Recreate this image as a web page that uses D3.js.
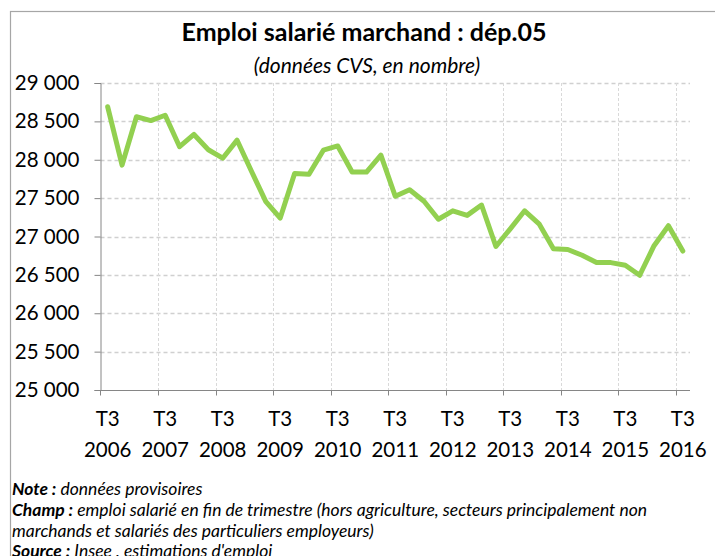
<!doctype html>
<html>
<head>
<meta charset="utf-8">
<style>
  body { margin: 0; background: #fff; }
  svg { display: block; }
  text { font-family: Lato, "Open Sans", sans-serif; fill: #000; }
</style>
</head>
<body>
<svg id="chart" width="715" height="556"></svg>
<script src="https://cdnjs.cloudflare.com/ajax/libs/d3/7.8.5/d3.min.js"></script>
<script>
// quarterly values, T3 2006 -> T3 2016
var years = ["2006","2007","2008","2009","2010","2011","2012","2013","2014","2015","2016"];
var values = [
  28690, 27930, 28560, 28510, 28580, 28170, 28330, 28130,
  28020, 28255, 27850, 27455, 27240, 27820, 27810, 28125,
  28180, 27840, 27840, 28060, 27525, 27610, 27460, 27225,
  27335, 27275, 27410, 26870, 27100, 27335, 27165, 26840,
  26830, 26755, 26660, 26660, 26625, 26495, 26880, 27140,
  26810
];
var yTicks = [25000, 25500, 26000, 26500, 27000, 27500, 28000, 28500, 29000];
var quarters = ["T3", "T4", "T1", "T2"];

var cats = values.map(function(d, i) {
  return quarters[i % 4] + " " + (2006 + Math.floor((i + 2) / 4));
});

var svg = d3.select("#chart");
var pLeft = 100.5, pRight = 690, pTop = 83, pBottom = 390;

var x = d3.scalePoint().domain(cats).range([pLeft, pRight]).padding(0.5);
var y = d3.scaleLinear().domain([25000, 29000]).range([pBottom, pTop]);
var step = x.step();

var fr = d3.formatLocale({ decimal: ",", thousands: " ", grouping: [3], currency: ["", " €"] });
var fmt = fr.format(",d");

// outer frame (right and bottom edges run past the picture)
svg.append("rect")
  .attr("x", 10.5).attr("y", 11.5).attr("width", 800).attr("height", 600)
  .attr("fill", "none").attr("stroke", "#a6a6a6").attr("stroke-width", 1.2);

// titles
svg.append("text").attr("x", 364).attr("y", 41).attr("text-anchor", "middle")
  .style("font-size", "25px").style("font-weight", "bold")
  .text("Emploi salarié marchand : dép.05");
svg.append("text").attr("x", 367).attr("y", 73).attr("text-anchor", "middle")
  .style("font-size", "21px").style("font-style", "italic")
  .text("(données CVS, en nombre)");

// horizontal grid
svg.append("g").selectAll("line").data(yTicks.slice(1)).join("line")
  .attr("x1", pLeft).attr("x2", pRight)
  .attr("y1", function(d) { return Math.round(y(d)) + 0.5; })
  .attr("y2", function(d) { return Math.round(y(d)) + 0.5; })
  .attr("stroke", "#d0d0d0").attr("stroke-width", 1.5).attr("stroke-dasharray", "4,3");

// vertical grid at year boundaries
var vIdx = d3.range(4, cats.length, 4);
svg.append("g").selectAll("line").data(vIdx).join("line")
  .attr("x1", function(i) { return Math.round(x(cats[i]) - step / 2) + 0.5; })
  .attr("x2", function(i) { return Math.round(x(cats[i]) - step / 2) + 0.5; })
  .attr("y1", pTop).attr("y2", pBottom)
  .attr("stroke", "#d9d9d9").attr("stroke-width", 1).attr("stroke-dasharray", "3,2");

// y axis
var yAxis = svg.append("g").attr("transform", "translate(" + pLeft + ",0)")
  .call(d3.axisLeft(y).tickValues(yTicks).tickSize(6).tickFormat(fmt));
yAxis.select(".domain").attr("stroke", "#868686");
yAxis.selectAll(".tick line").attr("stroke", "#868686");
yAxis.selectAll(".tick text").attr("x", -21).style("font-size", "20.5px")
  .style("font-family", "Lato, sans-serif").attr("fill", "#000");

// x axis
var xg = svg.append("g").attr("transform", "translate(0," + (pBottom + 0.5) + ")");
xg.append("line").attr("x1", pLeft).attr("x2", pRight).attr("stroke", "#868686");
xg.selectAll("line.tk").data(vIdx.concat([0])).join("line").attr("class", "tk")
  .attr("x1", function(i) { return i === 0 ? pLeft : Math.round(x(cats[i]) - step / 2) + 0.5; })
  .attr("x2", function(i) { return i === 0 ? pLeft : Math.round(x(cats[i]) - step / 2) + 0.5; })
  .attr("y1", 0).attr("y2", 5).attr("stroke", "#868686");
var labIdx = d3.range(0, cats.length, 4);
var lab = xg.selectAll("text").data(labIdx).join("text")
  .attr("text-anchor", "middle").style("font-size", "20.5px");
lab.append("tspan").attr("x", function(i) { return x(cats[i]); }).attr("y", 35)
  .text(function(i) { return cats[i].split(" ")[0]; });
lab.append("tspan").attr("x", function(i) { return x(cats[i]); }).attr("y", 66)
  .text(function(i) { return cats[i].split(" ")[1]; });

// series line
svg.append("path").datum(values)
  .attr("fill", "none").attr("stroke", "#92d050").attr("stroke-width", 5)
  .attr("stroke-linejoin", "round").attr("stroke-linecap", "round")
  .attr("d", d3.line().x(function(d, i) { return x(cats[i]); }).y(function(d) { return y(d); }));

// notes
var notes = [
  ["Note :", " données provisoires"],
  ["Champ :", " emploi salarié en fin de trimestre (hors agriculture, secteurs principalement non"],
  ["", "marchands et salariés des particuliers employeurs)"],
  ["Source :", " Insee , estimations d'emploi"]
];
var nt = svg.append("g").selectAll("text").data(notes).join("text")
  .attr("x", 12).attr("y", function(d, i) { return 495 + i * 20.8; })
  .style("font-size", "17.5px").style("font-style", "italic");
nt.append("tspan").style("font-weight", "bold").text(function(d) { return d[0]; });
nt.append("tspan").text(function(d) { return d[1]; });
</script>
</body>
</html>
